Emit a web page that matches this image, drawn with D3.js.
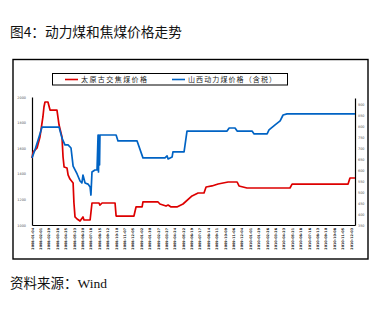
<!DOCTYPE html>
<html>
<head>
<meta charset="utf-8">
<script src="https://cdn.jsdelivr.net/npm/d3@7"></script>
<style>
  body { margin: 0; background: #fff; }
  svg { display: block; }
</style>
</head>
<body>
<div id="chart"></div>
<script>
// week index from the first label (2008-01-04)
var redWeek  = [0, 0.5, 2.4, 3.8, 5.2, 5.7, 6.2, 7.6, 8.6, 11.9, 12.9, 14.3, 14.8, 15.3, 16.7, 17.2, 18.1, 19.6, 20.0, 20.5, 21.5, 22.9, 24.3, 24.8, 27.7, 28.6, 31.9, 32.4, 33.4, 39.6, 40.1, 48.6, 49.6, 52.5, 52.9, 60.1, 61.0, 63.9, 64.9, 66.3, 69.1, 72.0, 76.3, 79.2, 82.0, 83.0, 85.8, 88.7, 93.5, 97.8, 98.7, 102.5, 123.0, 124.0, 150.7, 151.6, 154];
var redPrice = [1523, 1570, 1602, 1688, 1844, 1922, 1961, 1961, 1898, 1898, 1781, 1688, 1531, 1453, 1445, 1391, 1359, 1328, 1172, 1063, 1047, 1031, 1063, 1039, 1039, 1172, 1172, 1156, 1172, 1172, 1070, 1070, 1141, 1141, 1180, 1180, 1164, 1148, 1156, 1141, 1141, 1164, 1227, 1250, 1250, 1297, 1305, 1320, 1336, 1336, 1305, 1289, 1289, 1320, 1320, 1367, 1367];

var blueWeek  = [0, 1.4, 2.9, 4.8, 12.9, 14.3, 15.7, 17.2, 18.6, 19.6, 21.5, 22.9, 23.8, 24.3, 25.3, 26.7, 27.7, 28.1, 28.6, 30.0, 31.0, 31.5, 31.7, 31.9, 32.2, 32.4, 40.1, 41.0, 50.1, 52.9, 63.4, 64.4, 64.9, 66.8, 67.2, 72.5, 73.9, 93.0, 94.0, 96.8, 97.8, 104.9, 105.9, 112.1, 113.0, 115.9, 118.3, 119.7, 121.6, 154];
var bluePrice = [655, 691, 736, 795, 795, 745, 714, 714, 700, 618, 582, 550, 541, 577, 541, 536, 523, 486, 591, 600, 600, 759, 591, 759, 623, 759, 759, 732, 732, 655, 655, 664, 650, 659, 682, 682, 777, 777, 791, 791, 777, 777, 764, 764, 782, 805, 823, 850, 855, 855];

var seriesNames = ["太原古交焦煤价格", "山西动力煤价格（含税）"];
var leftTicks = [1000, 1200, 1400, 1600, 1800, 2000];
var rightTicks = [350, 400, 450, 500, 550, 600, 650, 700, 750, 800, 850, 900];
var dateLabels = ["2008-01-04", "2008-02-01", "2008-02-29", "2008-03-28", "2008-04-25", "2008-05-23", "2008-06-20", "2008-07-18", "2008-08-15", "2008-09-12", "2008-10-10", "2008-11-07", "2008-12-05",
  "2009-01-02", "2009-01-30", "2009-02-27", "2009-03-27", "2009-04-24", "2009-05-22", "2009-06-19", "2009-07-17", "2009-08-14", "2009-09-11", "2009-10-09", "2009-11-06", "2009-12-04",
  "2010-01-01", "2010-01-29", "2010-02-26", "2010-03-26", "2010-04-23", "2010-05-21", "2010-06-18", "2010-07-16", "2010-08-13", "2010-09-10", "2010-10-08", "2010-11-05", "2010-12-03"];
var labelWeeks = dateLabels.map(function (d, i) { return i * 4; });

var width = 377, height = 310;
var plot = { left: 32, right: 355, top: 97, bottom: 225 };

var svg = d3.select('#chart').append('svg').attr('width', width).attr('height', height);

// title and source
svg.append('text').attr('x', 10).attr('y', 37)
  .style('font-family', '"Noto Sans CJK SC", sans-serif').style('font-size', '13.7px').attr('fill', '#111')
  .text('图4：动力煤和焦煤价格走势');
svg.append('text').attr('x', 10).attr('y', 288)
  .style('font-family', '"Noto Sans CJK SC", sans-serif').style('font-size', '13.5px').attr('fill', '#111')
  .text('资料来源：').append('tspan').style('font-family', '"Liberation Serif", serif').text('Wind');

// outer frame
svg.append('rect').attr('x', 13).attr('y', 59.5).attr('width', 355).attr('height', 199.5)
  .attr('fill', 'none').attr('stroke', '#000').attr('stroke-width', 1.4);

var x = d3.scaleLinear().domain([0, 154]).range([plot.left, plot.right]);
var yL = d3.scaleLinear().domain([1000, 2000]).range([plot.bottom, plot.top]);
var yR = d3.scaleLinear().domain([350, 350 + 127 * 50 / 11]).range([plot.bottom, plot.top + 1]);

// axes
var gL = svg.append('g').attr('transform', 'translate(' + plot.left + ',0)')
  .call(d3.axisLeft(yL).tickValues(leftTicks).tickFormat(d3.format('d')).tickSize(0).tickPadding(6));
var gR = svg.append('g').attr('transform', 'translate(' + plot.right + ',0)')
  .call(d3.axisRight(yR).tickValues(rightTicks).tickFormat(d3.format('d')).tickSize(0).tickPadding(3));
var gB = svg.append('g').attr('transform', 'translate(0,' + plot.bottom + ')')
  .call(d3.axisBottom(x).tickValues(labelWeeks).tickSize(0)
    .tickFormat(function (d, i) { return dateLabels[i]; }));

[gL, gR, gB].forEach(function (g) {
  g.select('.domain').attr('stroke', '#000').attr('stroke-width', 1.2);
});
gL.selectAll('text').style('font-family', '"DejaVu Sans", sans-serif').style('font-size', '3.4px').attr('fill', '#555');
gR.selectAll('text').style('font-family', '"DejaVu Sans", sans-serif').style('font-size', '3.4px').attr('fill', '#555');
gB.selectAll('text')
  .style('font-family', '"DejaVu Sans", sans-serif').style('font-size', '3.4px').style('font-weight', 'bold').attr('fill', '#111')
  .attr('text-anchor', 'end').attr('transform', 'rotate(-90)')
  .attr('x', -3).attr('y', 0).attr('dy', '0.35em');

// lines
var redData = redWeek.map(function (w, i) { return [w, redPrice[i]]; });
var blueData = blueWeek.map(function (w, i) { return [w, bluePrice[i]]; });

svg.append('path').datum(redData)
  .attr('fill', 'none').attr('stroke', '#dd0000').attr('stroke-width', 1.7).attr('stroke-linejoin', 'round')
  .attr('d', d3.line().x(function (d) { return x(d[0]); }).y(function (d) { return yL(d[1]); }));
svg.append('path').datum(blueData)
  .attr('fill', 'none').attr('stroke', '#0063c4').attr('stroke-width', 1.7).attr('stroke-linejoin', 'round')
  .attr('d', d3.line().x(function (d) { return x(d[0]); }).y(function (d) { return yR(d[1]); }));

// legend
var lg = svg.append('g');
lg.append('rect').attr('x', 52.5).attr('y', 73.5).attr('width', 235).attr('height', 11.5)
  .attr('fill', '#fff').attr('stroke', '#000').attr('stroke-width', 1);
var legendItems = [
  { name: seriesNames[0], color: '#dd0000', x0: 65, len: 66 },
  { name: seriesNames[1], color: '#0063c4', x0: 172, len: 88 }
];
legendItems.forEach(function (it) {
  lg.append('line').attr('x1', it.x0).attr('x2', it.x0 + 13).attr('y1', 79.5).attr('y2', 79.5)
    .attr('stroke', it.color).attr('stroke-width', 1.6);
  lg.append('text').attr('x', it.x0 + 16).attr('y', 82.3)
    .style('font-family', '"Noto Sans CJK SC", sans-serif').style('font-size', '7px').attr('fill', '#222')
    .attr('textLength', it.len).attr('lengthAdjust', 'spacing')
    .text(it.name);
});
</script>
</body>
</html>
